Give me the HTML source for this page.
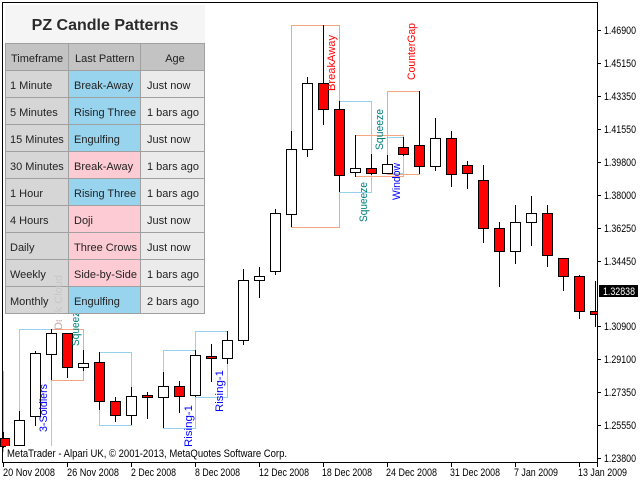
<!DOCTYPE html>
<html><head><meta charset="utf-8"><style>
html,body{margin:0;padding:0;background:#fff;}
svg{display:block;}
text{font-family:"Liberation Sans",sans-serif;}
</style></head><body>
<svg width="640" height="480" viewBox="0 0 640 480" xmlns="http://www.w3.org/2000/svg">
<defs><clipPath id="cb"><rect x="0" y="314" width="100" height="20"/></clipPath></defs>
<rect x="0" y="0" width="640" height="480" fill="#fff"/>
<line x1="2.5" y1="2" x2="2.5" y2="463" stroke="#000" stroke-width="1"/>
<line x1="2" y1="2.5" x2="598" y2="2.5" stroke="#000" stroke-width="1"/>
<line x1="597.5" y1="2" x2="597.5" y2="467" stroke="#000" stroke-width="1"/>
<line x1="2" y1="462.5" x2="598" y2="462.5" stroke="#000" stroke-width="1"/>

<g fill="none" stroke-width="1">
<line x1="3.5" y1="371" x2="3.5" y2="452" stroke="#f4a582"/>
<rect x="19.5" y="329.5" width="32" height="122" stroke="#99d0ec"/>
<rect x="51.5" y="329.5" width="32" height="51" stroke="#f4a582"/>
<rect x="99.5" y="352.5" width="32" height="73" stroke="#99d0ec"/>
<rect x="163.5" y="350.5" width="32" height="78" stroke="#99d0ec"/>
<rect x="195.5" y="331.5" width="32" height="66" stroke="#99d0ec"/>
<rect x="291.5" y="25.5" width="48" height="202" stroke="#f4a582"/>
<rect x="339.5" y="101.5" width="32" height="91" stroke="#99d0ec"/>
<rect x="355.5" y="135.5" width="48" height="41" stroke="#f4a582"/>
<rect x="387.5" y="137.5" width="16" height="36" stroke="#99d0ec"/>
<rect x="387.5" y="91.5" width="32" height="83" stroke="#f4a582"/>
</g>

<g stroke="#000" stroke-width="1">
<line x1="3.5" y1="432" x2="3.5" y2="448"/><rect x="0.5" y="438.5" width="9" height="8" fill="#f00"/>
<line x1="19.5" y1="411" x2="19.5" y2="452"/><rect x="14.5" y="420.5" width="10" height="25" fill="#fff"/>
<line x1="35.5" y1="351" x2="35.5" y2="426"/><rect x="30.5" y="353.5" width="10" height="63" fill="#fff"/>
<line x1="51.5" y1="329" x2="51.5" y2="380"/><rect x="46.5" y="333.5" width="10" height="21" fill="#fff"/>
<line x1="67.5" y1="333" x2="67.5" y2="378"/><rect x="62.5" y="333.5" width="10" height="34" fill="#f00"/>
<line x1="83.5" y1="350" x2="83.5" y2="371"/><rect x="78.5" y="363.5" width="10" height="4" fill="#fff"/>
<line x1="99.5" y1="352" x2="99.5" y2="410"/><rect x="94.5" y="362.5" width="10" height="39" fill="#f00"/>
<line x1="115.5" y1="397" x2="115.5" y2="422"/><rect x="110.5" y="401.5" width="10" height="14" fill="#f00"/>
<line x1="131.5" y1="387" x2="131.5" y2="425"/><rect x="126.5" y="396.5" width="10" height="19" fill="#fff"/>
<line x1="147.5" y1="392" x2="147.5" y2="419"/><rect x="142.5" y="395.5" width="10" height="2" fill="#f00"/>
<line x1="163.5" y1="372" x2="163.5" y2="428"/><rect x="158.5" y="386.5" width="10" height="11" fill="#fff"/>
<line x1="179.5" y1="381" x2="179.5" y2="413"/><rect x="174.5" y="386.5" width="10" height="10" fill="#f00"/>
<line x1="195.5" y1="350" x2="195.5" y2="397"/><rect x="190.5" y="355.5" width="10" height="40" fill="#fff"/>
<line x1="211.5" y1="344" x2="211.5" y2="382"/><rect x="206.5" y="356.5" width="10" height="2" fill="#f00"/>
<line x1="227.5" y1="331" x2="227.5" y2="364"/><rect x="222.5" y="340.5" width="10" height="18" fill="#fff"/>
<line x1="243.5" y1="269" x2="243.5" y2="345"/><rect x="238.5" y="280.5" width="10" height="60" fill="#fff"/>
<line x1="259.5" y1="267" x2="259.5" y2="298"/><rect x="254.5" y="276.5" width="10" height="4" fill="#fff"/>
<line x1="275.5" y1="209" x2="275.5" y2="275"/><rect x="270.5" y="213.5" width="10" height="58" fill="#fff"/>
<line x1="291.5" y1="131" x2="291.5" y2="227"/><rect x="286.5" y="149.5" width="10" height="65" fill="#fff"/>
<line x1="307.5" y1="77" x2="307.5" y2="157"/><rect x="302.5" y="83.5" width="10" height="66" fill="#fff"/>
<line x1="323.5" y1="25" x2="323.5" y2="125"/><rect x="318.5" y="83.5" width="10" height="26" fill="#f00"/>
<line x1="339.5" y1="101" x2="339.5" y2="192"/><rect x="334.5" y="109.5" width="10" height="66" fill="#f00"/>
<line x1="355.5" y1="135" x2="355.5" y2="177"/><rect x="350.5" y="168.5" width="10" height="4" fill="#fff"/>
<line x1="371.5" y1="154" x2="371.5" y2="175"/><rect x="366.5" y="168.5" width="10" height="5" fill="#f00"/>
<line x1="387.5" y1="155" x2="387.5" y2="174"/><rect x="382.5" y="164.5" width="10" height="9" fill="#fff"/>
<line x1="403.5" y1="137" x2="403.5" y2="156"/><rect x="398.5" y="147.5" width="10" height="7" fill="#f00"/>
<line x1="419.5" y1="91" x2="419.5" y2="174"/><rect x="414.5" y="145.5" width="10" height="21" fill="#f00"/>
<line x1="435.5" y1="118" x2="435.5" y2="171"/><rect x="430.5" y="138.5" width="10" height="28" fill="#fff"/>
<line x1="451.5" y1="131" x2="451.5" y2="187"/><rect x="446.5" y="138.5" width="10" height="36" fill="#f00"/>
<line x1="467.5" y1="161" x2="467.5" y2="189"/><rect x="462.5" y="165.5" width="10" height="8" fill="#f00"/>
<line x1="483.5" y1="165" x2="483.5" y2="243"/><rect x="478.5" y="180.5" width="10" height="48" fill="#f00"/>
<line x1="499.5" y1="222" x2="499.5" y2="287"/><rect x="494.5" y="228.5" width="10" height="23" fill="#f00"/>
<line x1="515.5" y1="205" x2="515.5" y2="264"/><rect x="510.5" y="222.5" width="10" height="29" fill="#fff"/>
<line x1="531.5" y1="196" x2="531.5" y2="246"/><rect x="526.5" y="213.5" width="10" height="9" fill="#fff"/>
<line x1="547.5" y1="205" x2="547.5" y2="267"/><rect x="542.5" y="213.5" width="10" height="42" fill="#f00"/>
<line x1="563.5" y1="258" x2="563.5" y2="291"/><rect x="558.5" y="258.5" width="10" height="18" fill="#f00"/>
<line x1="579.5" y1="275" x2="579.5" y2="319"/><rect x="574.5" y="276.5" width="10" height="35" fill="#f00"/>
<line x1="595.5" y1="281" x2="595.5" y2="327"/><rect x="590.5" y="311.5" width="7" height="3" fill="#f00"/>
</g>

<g font-size="11">
<text transform="translate(47,432) rotate(-90)" fill="#0000ff" textLength="48" lengthAdjust="spacingAndGlyphs">3-Soldiers</text>
<text transform="translate(62,330) rotate(-90)" fill="#ff0000" textLength="55" lengthAdjust="spacingAndGlyphs">Dark Cloud</text>
<text transform="translate(79,346) rotate(-90)" fill="#008080" textLength="40" lengthAdjust="spacingAndGlyphs">Squeeze</text>
<text transform="translate(192,447) rotate(-90)" fill="#0000ff" textLength="42" lengthAdjust="spacingAndGlyphs">Rising-1</text>
<text transform="translate(223,412) rotate(-90)" fill="#0000ff" textLength="42" lengthAdjust="spacingAndGlyphs">Rising-1</text>
<text transform="translate(335,91) rotate(-90)" fill="#ff0000" textLength="56" lengthAdjust="spacingAndGlyphs">BreakAway</text>
<text transform="translate(367,222) rotate(-90)" fill="#008080" textLength="40" lengthAdjust="spacingAndGlyphs">Squeeze</text>
<text transform="translate(383,150) rotate(-90)" fill="#008080" textLength="41" lengthAdjust="spacingAndGlyphs">Squeeze</text>
<text transform="translate(400,200) rotate(-90)" fill="#0000ff" textLength="37" lengthAdjust="spacingAndGlyphs">Window</text>
<text transform="translate(415,80) rotate(-90)" fill="#ff0000" textLength="57" lengthAdjust="spacingAndGlyphs">CounterGap</text>
</g>

<g font-size="11" fill="#222">
<rect x="5" y="5" width="200" height="38" fill="#f5f5f5"/>
<text x="105" y="30" text-anchor="middle" font-size="16" font-weight="bold" fill="#2a2a2a">PZ Candle Patterns</text>
<rect x="5" y="43" width="200" height="27" fill="#c4c3c3"/>
<rect x="5" y="70" width="63" height="243" fill="#d6d6d6"/>
<rect x="140" y="70" width="65" height="243" fill="#ebebeb"/>
<rect x="68" y="70" width="72" height="81" fill="#99d4ef"/>
<rect x="68" y="151" width="72" height="27" fill="#fdcbd4"/>
<rect x="68" y="178" width="72" height="27" fill="#99d4ef"/>
<rect x="68" y="205" width="72" height="81" fill="#fdcbd4"/>
<rect x="68" y="286" width="72" height="27" fill="#99d4ef"/>
<g stroke="#a0a0a0" stroke-width="1" fill="none">
<rect x="5.5" y="43.5" width="199" height="270"/>
<line x1="68.5" y1="43" x2="68.5" y2="313"/>
<line x1="140.5" y1="43" x2="140.5" y2="313"/>
<line x1="5" y1="70.5" x2="205" y2="70.5"/>
<line x1="5" y1="97.5" x2="205" y2="97.5"/>
<line x1="5" y1="124.5" x2="205" y2="124.5"/>
<line x1="5" y1="151.5" x2="205" y2="151.5"/>
<line x1="5" y1="178.5" x2="205" y2="178.5"/>
<line x1="5" y1="205.5" x2="205" y2="205.5"/>
<line x1="5" y1="232.5" x2="205" y2="232.5"/>
<line x1="5" y1="259.5" x2="205" y2="259.5"/>
<line x1="5" y1="286.5" x2="205" y2="286.5"/>
</g>
<text x="11" y="62">Timeframe</text><text x="75" y="62">Last Pattern</text><text x="175" y="62" text-anchor="middle">Age</text>
<text x="10" y="89">1 Minute</text><text x="74" y="89">Break-Away</text><text x="147" y="89">Just now</text>
<text x="10" y="116">5 Minutes</text><text x="74" y="116">Rising Three</text><text x="147" y="116">1 bars ago</text>
<text x="10" y="143">15 Minutes</text><text x="74" y="143">Engulfing</text><text x="147" y="143">Just now</text>
<text x="10" y="170">30 Minutes</text><text x="74" y="170">Break-Away</text><text x="147" y="170">1 bars ago</text>
<text x="10" y="197">1 Hour</text><text x="74" y="197">Rising Three</text><text x="147" y="197">1 bars ago</text>
<text x="10" y="224">4 Hours</text><text x="74" y="224">Doji</text><text x="147" y="224">Just now</text>
<text x="10" y="251">Daily</text><text x="74" y="251">Three Crows</text><text x="147" y="251">Just now</text>
<text x="10" y="278">Weekly</text><text x="74" y="278">Side-by-Side</text><text x="147" y="278">1 bars ago</text>
<text x="10" y="305">Monthly</text><text x="74" y="305">Engulfing</text><text x="147" y="305">2 bars ago</text>
<text transform="translate(62,330) rotate(-90)" fill="#c8c8c8" textLength="55" lengthAdjust="spacingAndGlyphs">Dark Cloud</text>
<rect x="50" y="314" width="20" height="6" fill="#fff"/>
</g>
<text transform="translate(62,330) rotate(-90)" font-size="11" fill="#ff0000" clip-path="url(#cb)" textLength="55" lengthAdjust="spacingAndGlyphs">Dark Cloud</text>

<rect x="6" y="446" width="282" height="13" fill="#fff"/>
<text x="7" y="457" font-size="11" fill="#000" textLength="280" lengthAdjust="spacingAndGlyphs">MetaTrader - Alpari UK, © 2001-2013, MetaQuotes Software Corp.</text>

<g font-size="11" fill="#000" stroke="#000">
<line x1="597" y1="30.5" x2="601" y2="30.5"/><text x="604" y="34" stroke="none" textLength="32" lengthAdjust="spacingAndGlyphs">1.46900</text>
<line x1="597" y1="63.5" x2="601" y2="63.5"/><text x="604" y="67" stroke="none" textLength="32" lengthAdjust="spacingAndGlyphs">1.45150</text>
<line x1="597" y1="96.5" x2="601" y2="96.5"/><text x="604" y="100" stroke="none" textLength="32" lengthAdjust="spacingAndGlyphs">1.43350</text>
<line x1="597" y1="129.5" x2="601" y2="129.5"/><text x="604" y="133" stroke="none" textLength="32" lengthAdjust="spacingAndGlyphs">1.41550</text>
<line x1="597" y1="162.5" x2="601" y2="162.5"/><text x="604" y="166" stroke="none" textLength="32" lengthAdjust="spacingAndGlyphs">1.39800</text>
<line x1="597" y1="195.5" x2="601" y2="195.5"/><text x="604" y="199" stroke="none" textLength="32" lengthAdjust="spacingAndGlyphs">1.38000</text>
<line x1="597" y1="228.5" x2="601" y2="228.5"/><text x="604" y="232" stroke="none" textLength="32" lengthAdjust="spacingAndGlyphs">1.36250</text>
<line x1="597" y1="261.5" x2="601" y2="261.5"/><text x="604" y="265" stroke="none" textLength="32" lengthAdjust="spacingAndGlyphs">1.34450</text>
<line x1="597" y1="326.5" x2="601" y2="326.5"/><text x="604" y="330" stroke="none" textLength="32" lengthAdjust="spacingAndGlyphs">1.30900</text>
<line x1="597" y1="359.5" x2="601" y2="359.5"/><text x="604" y="363" stroke="none" textLength="32" lengthAdjust="spacingAndGlyphs">1.29100</text>
<line x1="597" y1="392.5" x2="601" y2="392.5"/><text x="604" y="396" stroke="none" textLength="32" lengthAdjust="spacingAndGlyphs">1.27350</text>
<line x1="597" y1="425.5" x2="601" y2="425.5"/><text x="604" y="429" stroke="none" textLength="32" lengthAdjust="spacingAndGlyphs">1.25550</text>
<line x1="597" y1="458.5" x2="601" y2="458.5"/><text x="604" y="462" stroke="none" textLength="32" lengthAdjust="spacingAndGlyphs">1.23800</text>
</g>
<rect x="599" y="285" width="39" height="12" fill="#000"/>
<text x="603" y="295" font-size="11" fill="#fff" textLength="32" lengthAdjust="spacingAndGlyphs">1.32838</text>

<g font-size="11" fill="#000" stroke="#000">
<line x1="3.5" y1="463" x2="3.5" y2="467"/><text x="3" y="476" stroke="none" textLength="52" lengthAdjust="spacingAndGlyphs">20 Nov 2008</text>
<line x1="67.5" y1="463" x2="67.5" y2="467"/><text x="67" y="476" stroke="none" textLength="52" lengthAdjust="spacingAndGlyphs">26 Nov 2008</text>
<line x1="131.5" y1="463" x2="131.5" y2="467"/><text x="131" y="476" stroke="none" textLength="45" lengthAdjust="spacingAndGlyphs">2 Dec 2008</text>
<line x1="195.5" y1="463" x2="195.5" y2="467"/><text x="195" y="476" stroke="none" textLength="45" lengthAdjust="spacingAndGlyphs">8 Dec 2008</text>
<line x1="259.5" y1="463" x2="259.5" y2="467"/><text x="259" y="476" stroke="none" textLength="50" lengthAdjust="spacingAndGlyphs">12 Dec 2008</text>
<line x1="323.5" y1="463" x2="323.5" y2="467"/><text x="322" y="476" stroke="none" textLength="50" lengthAdjust="spacingAndGlyphs">18 Dec 2008</text>
<line x1="387.5" y1="463" x2="387.5" y2="467"/><text x="386" y="476" stroke="none" textLength="51" lengthAdjust="spacingAndGlyphs">24 Dec 2008</text>
<line x1="451.5" y1="463" x2="451.5" y2="467"/><text x="450" y="476" stroke="none" textLength="50" lengthAdjust="spacingAndGlyphs">31 Dec 2008</text>
<line x1="515.5" y1="463" x2="515.5" y2="467"/><text x="514" y="476" stroke="none" textLength="44" lengthAdjust="spacingAndGlyphs">7 Jan 2009</text>
<line x1="579.5" y1="463" x2="579.5" y2="467"/><text x="578" y="476" stroke="none" textLength="49" lengthAdjust="spacingAndGlyphs">13 Jan 2009</text>
</g>
</svg>
</body></html>
